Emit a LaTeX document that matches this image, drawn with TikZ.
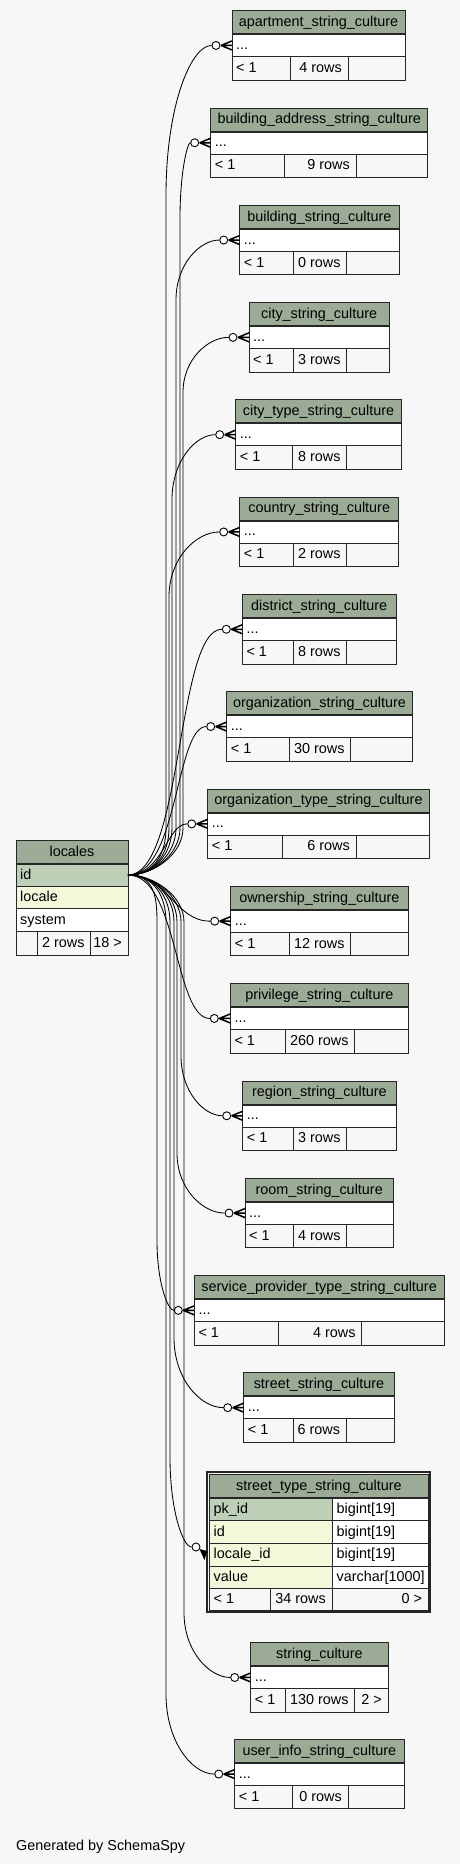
\documentclass[tikz,border=0pt]{standalone}
\usepackage{fontspec}
\setmainfont{Liberation Sans}
\usepackage{tikz}
\usetikzlibrary{calc}
\definecolor{bggray}{RGB}{247,247,247}
\definecolor{headgreen}{RGB}{155,171,150}
\definecolor{pkgreen}{RGB}{190,209,184}
\definecolor{idxyellow}{RGB}{244,247,218}
\definecolor{footgray}{RGB}{247,247,247}

\tikzset{
  tabtext/.style={font=\fontsize{14.4}{16}\selectfont, inner sep=2pt, text height=10.5pt, text depth=2.5pt},
  tabline/.style={draw=black!85, line width=1pt},
  edge/.style={draw=black, line width=0.85pt},
  crowdot/.style={circle, draw=black, fill=white, line width=0.9pt, minimum size=8pt, inner sep=0pt},
  crowline/.style={draw=black, line width=1.5pt}
}

% small table: name, left, split 1, split 2, right, top, title, rows, right cell
\newcommand{\smalltab}[9]{%
  \fill[headgreen] (#2,#6) rectangle (#5,#6+23.5);
  \fill[white] (#2,#6+23.5) rectangle (#5,#6+46);
  \fill[footgray] (#2,#6+46) rectangle (#5,#6+69.5);
  \draw[tabline] (#2,#6) rectangle (#5,#6+69.5);
  \draw[tabline] (#2,#6+46) -- (#5,#6+46);
  \draw[tabline] (#3,#6+46) -- (#3,#6+69.5);
  \draw[tabline] (#4,#6+46) -- (#4,#6+69.5);
  \draw[tabline,line width=2pt] (#2,#6+23.5) -- (#5,#6+23.5);
  \node[tabtext] (#1) at ({(#2+#5)/2},#6+11.75) {#7};
  \node[tabtext,anchor=west] at (#2+2,#6+34.75) {...};
  \node[tabtext,anchor=west] at (#2+2,#6+57.75) {< 1};
  \node[tabtext,anchor=east] at (#4-4,#6+57.75) {#8};
  \node[tabtext,anchor=east] at (#5-4,#6+57.75) {#9};
  \node[crowdot] (#1-o) at (#2-16,#6+34.75) {};
  \draw[crowline] (#2-11,#6+34.75) -- (#2,#6+30.25) (#2-11,#6+34.75) -- (#2,#6+34.75) (#2-11,#6+34.75) -- (#2,#6+39.25);
}

\begin{document}
\begin{tikzpicture}[x=1pt,y=-1pt]
% Background
\useasboundingbox (0,0) rectangle (460,1864);
\fill[bggray] (0,0) rectangle (460,1864);

% Locales table
\fill[headgreen] (16,840) rectangle (128,864);
\fill[pkgreen] (16,864) rectangle (128,886);
\fill[idxyellow] (16,886) rectangle (128,908.7);
\fill[white] (16,908.7) rectangle (128,931.3);
\fill[footgray] (16,931.3) rectangle (128,955);
\draw[tabline] (16,840) rectangle (128,955);
\draw[tabline] (16,886) -- (128,886) (16,908.7) -- (128,908.7) (16,931.3) -- (128,931.3);
\draw[tabline] (37.3,931.3) -- (37.3,955) (90.7,931.3) -- (90.7,955);
\draw[tabline,line width=2pt] (16,864) -- (128,864);
\node[tabtext] (locales) at (72,852) {locales};
\node[tabtext,anchor=west] at (18,875) {id};
\node[tabtext,anchor=west] at (18,897.3) {locale};
\node[tabtext,anchor=west] at (18,920) {system};
\node[tabtext,anchor=east] at (86.7,943.2) {2 rows};
\node[tabtext,anchor=east] at (124,943.2) {18 >};
\coordinate (loc-id) at (128,875);

% Child tables
\smalltab{apt}{232}{290.7}{348}{405}{10.7}{apartment\_string\_culture}{4 rows}{}
\smalltab{baddr}{210.7}{284}{356}{427.7}{108}{building\_address\_string\_culture}{9 rows}{}
\smalltab{bldg}{239.7}{293}{346.7}{399}{205.3}{building\_string\_culture}{0 rows}{}
\smalltab{city}{249}{293}{346.7}{389.3}{302.6}{city\_string\_culture}{3 rows}{}
\smalltab{ctype}{235.7}{292.3}{346.7}{401.3}{399.9}{city\_type\_string\_culture}{8 rows}{}
\smalltab{country}{239.7}{293}{346.7}{398.7}{497.2}{country\_string\_culture}{2 rows}{}
\smalltab{district}{242.3}{293}{346.7}{396}{594.5}{district\_string\_culture}{8 rows}{}
\smalltab{org}{226.7}{289.3}{350.7}{412.3}{691.8}{organization\_string\_culture}{30 rows}{}
\smalltab{orgtype}{207.7}{282.7}{356}{429.3}{789.1}{organization\_type\_string\_culture}{6 rows}{}
\smalltab{own}{230.7}{289}{350.7}{408}{886.4}{ownership\_string\_culture}{12 rows}{}
\smalltab{priv}{230.3}{285.3}{354.7}{408.3}{983.7}{privilege\_string\_culture}{260 rows}{}
\smalltab{region}{242.7}{293.3}{346.7}{396}{1081}{region\_string\_culture}{3 rows}{}
\smalltab{room}{245}{293.3}{346.7}{393.3}{1178.3}{room\_string\_culture}{4 rows}{}
\smalltab{service}{194.3}{278.7}{361.7}{444}{1275.6}{service\_provider\_type\_string\_culture}{4 rows}{}
\smalltab{street}{243.7}{293}{346.3}{394.3}{1372.9}{street\_string\_culture}{6 rows}{}
\smalltab{strc}{250.7}{285}{354.7}{388}{1642.7}{string\_culture}{130 rows}{2 >}
\smalltab{user}{234.7}{292}{348}{404}{1739.3}{user\_info\_string\_culture}{0 rows}{}

% Street type table (full columns)
\draw[draw=black!85,line width=2pt] (206.7,1471.7) rectangle (429.7,1612);
\fill[headgreen] (209.5,1474.5) rectangle (428.3,1498.3);
\fill[pkgreen] (209.5,1498.3) rectangle (332,1520.7);
\fill[idxyellow] (209.5,1520.7) rectangle (332,1588.3);
\fill[white] (332,1498.3) rectangle (428.3,1588.3);
\fill[footgray] (209.5,1588.3) rectangle (428.3,1610.3);
\draw[tabline] (209.5,1474.5) rectangle (428.3,1610.3);
\draw[tabline] (209.5,1520.7) -- (428.3,1520.7) (209.5,1543.3) -- (428.3,1543.3) (209.5,1566) -- (428.3,1566) (209.5,1588.3) -- (428.3,1588.3);
\draw[tabline] (332,1498.3) -- (332,1610.3) (270.7,1588.3) -- (270.7,1610.3);
\draw[tabline,line width=2pt] (209.5,1498.3) -- (428.3,1498.3);
\node[tabtext] (sttype) at (318.9,1486.4) {street\_type\_string\_culture};
\node[tabtext,anchor=west] at (211.5,1509.5) {pk\_id};
\node[tabtext,anchor=west] at (211.5,1532) {id};
\node[tabtext,anchor=west] at (211.5,1554.7) {locale\_id};
\node[tabtext,anchor=west] at (211.5,1577.2) {value};
\node[tabtext,anchor=west] at (334.5,1509.5) {bigint[19]};
\node[tabtext,anchor=west] at (334.5,1532) {bigint[19]};
\node[tabtext,anchor=west] at (334.5,1554.7) {bigint[19]};
\node[tabtext,anchor=west] at (334.5,1577.2) {varchar[1000]};
\node[tabtext,anchor=west] at (211.5,1599.3) {< 1};
\node[tabtext,anchor=east] at (328,1599.3) {34 rows};
\node[tabtext,anchor=east] at (424.3,1599.3) {0 >};
\node[crowdot] (sttype-o) at (196,1547) {};
\fill[black] (199.5,1549) -- (207,1551) -- (204.5,1560) -- cycle;

% Connectors to the tables above
\foreach \n/\l/\t in {apt/166/150, baddr/180/75, bldg/176/60, city/183/55, ctype/172/65, country/169/65}
  \draw[edge] (loc-id) .. controls +(26,0) and +(0,26) .. (\l,828) -- ($(\n-o -| \l,0)+(0,\t)$) .. controls +(0,-0.6*\t) and ($(\n-o -| \l,0)!0.5!(\n-o)$) .. (\n-o);
% Connectors to the tables below
\foreach \n/\l/\t in {region/181/60, room/177/60, service/157/70, street/174/70, sttype/170/90, strc/184/65, user/166/80}
  \draw[edge] (loc-id) .. controls +(26,0) and +(0,-26) .. (\l,922) -- ($(\n-o -| \l,0)+(0,-\t)$) .. controls +(0,0.6*\t) and ($(\n-o -| \l,0)!0.5!(\n-o)$) .. (\n-o);
% Short connectors
\draw[edge] (loc-id) .. controls +(55,0) and +(-50,0) .. (district-o);
\draw[edge] (loc-id) .. controls +(50,0) and +(-35,0) .. (org-o);
\draw[edge] (loc-id) .. controls +(35,0) and +(-25,0) .. (orgtype-o);
\draw[edge] (loc-id) .. controls +(40,0) and +(-40,0) .. (own-o);
\draw[edge] (loc-id) .. controls +(50,0) and +(-40,0) .. (priv-o);

% Footer
\node[font=\fontsize{14.4}{16}\selectfont, inner sep=0pt, anchor=base west] (credit) at (16,1850) {Generated by SchemaSpy};
\end{tikzpicture}
\end{document}
